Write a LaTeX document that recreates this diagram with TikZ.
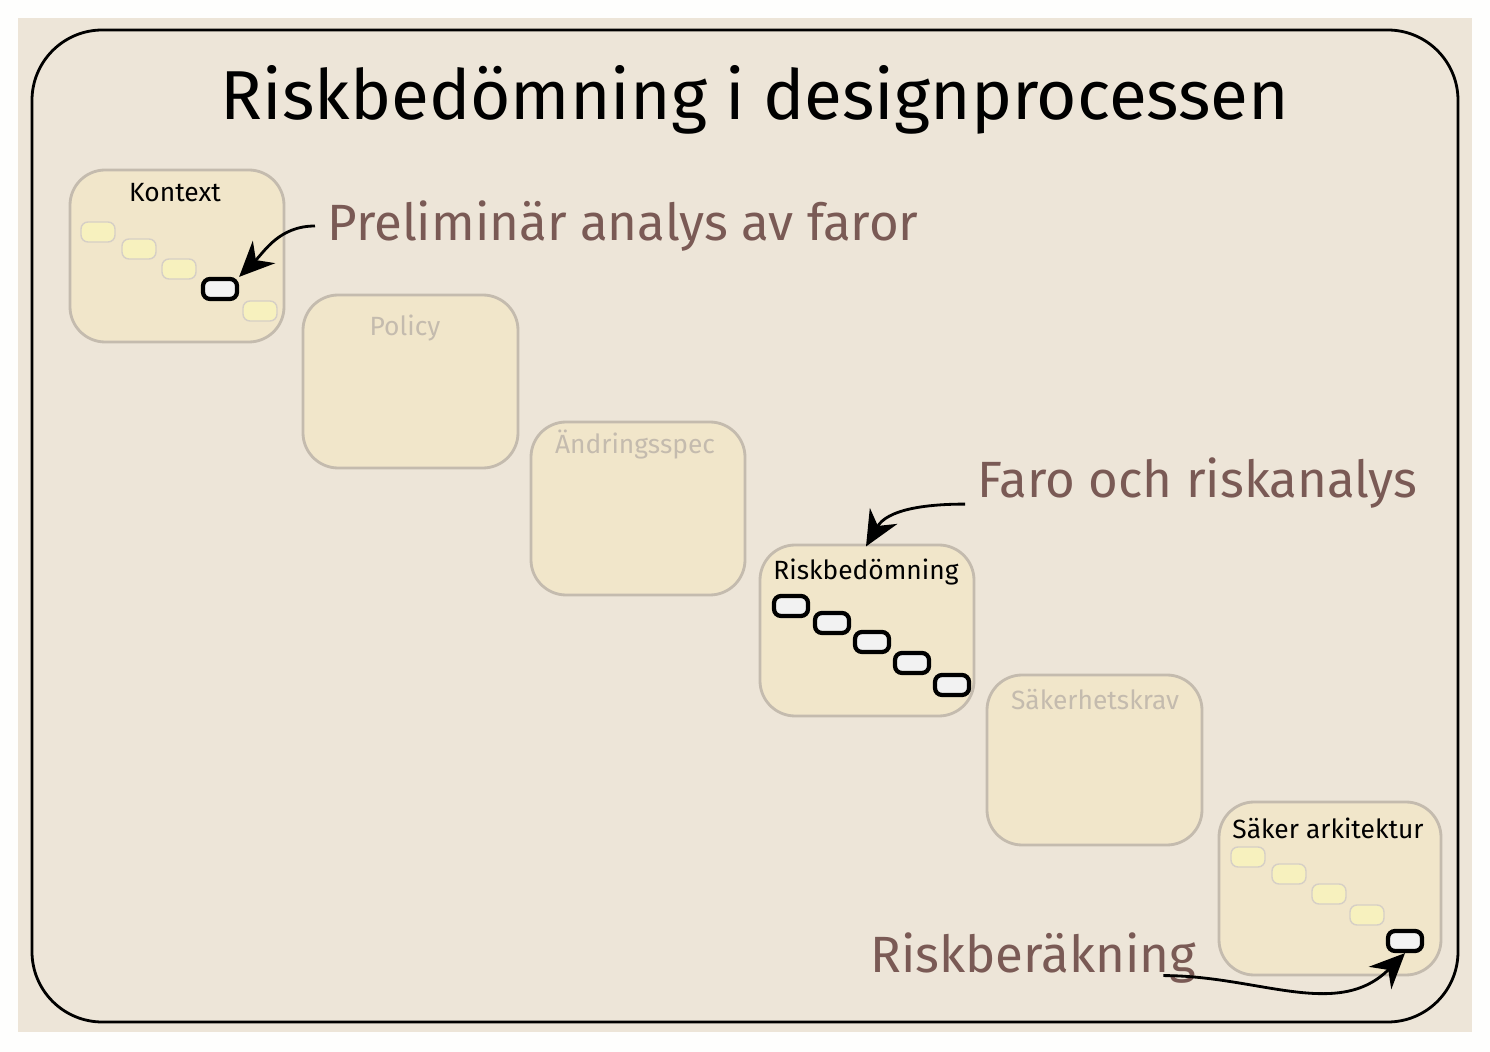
\documentclass[tikz,border=0pt]{standalone}
\usepackage{fontspec}
\setmainfont{Fira Sans}
\usetikzlibrary{positioning,arrows.meta}
\definecolor{paper}{HTML}{EDE5D8}
\definecolor{cardfill}{HTML}{F1E6CA}
\definecolor{cardline}{HTML}{C4BBAE}
\definecolor{note}{HTML}{7A5A55}
\tikzset{
	card/.style={draw=cardline,fill=cardfill,thick,rounded corners=10pt},
	cardlabel/.style={font=\fontsize{7.5}{9}\selectfont,text=black},
	faintlabel/.style={font=\fontsize{7.5}{9}\selectfont,text=cardline},
	stepbox/.style={draw=black,fill=white!95!black,very thick,rounded corners=2pt,minimum width=.34cm,minimum height=.2cm,inner sep=0},
	faintstep/.style={draw=cardline!70,fill=cardfill!80!yellow!70!white,rounded corners=2pt,minimum width=.34cm,minimum height=.2cm,inner sep=0},
	notetext/.style={font=\fontsize{14.5}{17}\selectfont,text=note,anchor=west},
	notearrow/.style={->,>={Stealth[width=9pt,length=10pt]},thick,black}
}
\begin{document}
\begin{tikzpicture}[x=0.01cm,y=-0.01cm]
	\useasboundingbox (0,0) rectangle (1490,1052);
	\fill[white!96!paper] (0,0) rectangle (1490,1052);
	\fill[paper] (18,18) rectangle (1472,1032);
	\draw[black,thick,rounded corners=20pt] (32,30) rectangle (1458,1022);
	
	\node[font=\fontsize{19.7}{24}\selectfont] (title) at (755,100) {Riskbedömning i designprocessen};
	
	% cards
	\draw[card] (70,170) rectangle (284,342);
	\draw[card] (303,295) rectangle (518,468);
	\draw[card] (531,422) rectangle (745,595);
	\draw[card] (760,545) rectangle (974,716);
	\draw[card] (987,675) rectangle (1202,845);
	\draw[card] (1219,802) rectangle (1441,975);
	\node[cardlabel] (kontext) at (175,193) {Kontext};
	\node[faintlabel] (policy) at (405,328) {Policy};
	\node[faintlabel] (andring) at (635,445) {Ändringsspec};
	\node[cardlabel] (riskbed) at (866,572) {Riskbedömning};
	\node[faintlabel] (sakkrav) at (1095,700) {Säkerhetskrav};
	\node[cardlabel] (sakark) at (1328,828) {Säker arkitektur};
	
	% steps
	\foreach \x/\y [count=\i] in {98/232,139/249,179/269,260/311}
		\node[faintstep] (k\i) at (\x,\y) {};
	\node[stepbox] (kpre) at (220,289) {};
	\foreach \x/\y [count=\i] in {791/606,832/623,872/642,912/663,952/685}
		\node[stepbox] (r\i) at (\x,\y) {};
	\foreach \x/\y [count=\i] in {1248/857,1289/874,1329/894,1367/915}
		\node[faintstep] (s\i) at (\x,\y) {};
	\node[stepbox] (sber) at (1405,941) {};
	
	% notes
	\node[notetext] (pre) at (315,226) {Preliminär analys av faror};
	\node[notetext] (faro) at (965,483) {Faro och riskanalys};
	\node[notetext] (rber) at (858,958) {Riskberäkning};
	\draw[notearrow] (pre.west) to[out=180,in=45] (kpre.north east);
	\draw[notearrow] ([yshift=-6]faro.west) to[out=180,in=60] (riskbed.north);
	\draw[notearrow] ([xshift=-0.45cm,yshift=-5]rber.east) to[out=0,in=225] (sber.south);
\end{tikzpicture}
\end{document}
